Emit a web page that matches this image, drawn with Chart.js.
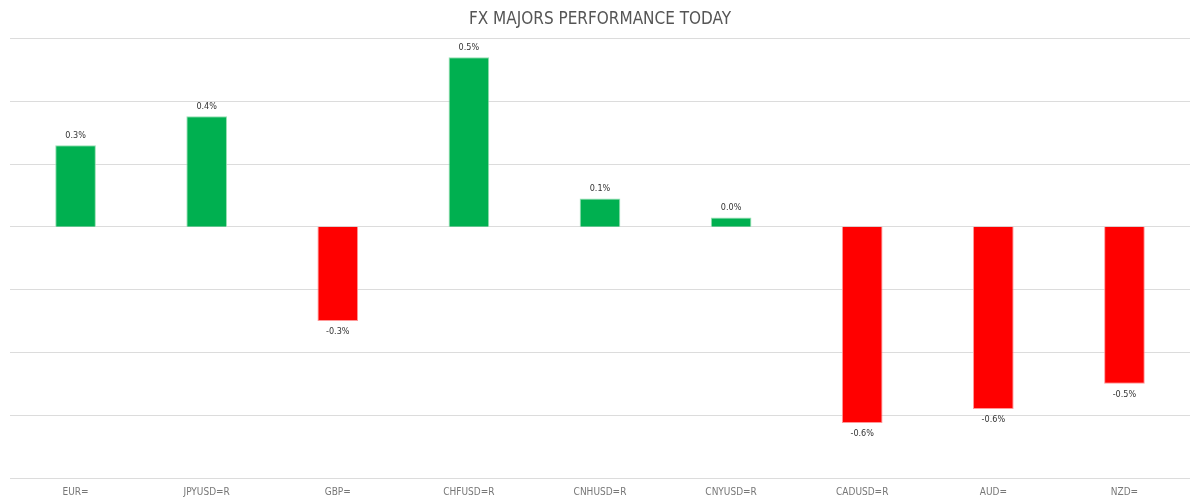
<!DOCTYPE html>
<html>
<head>
<meta charset="utf-8">
<script src="https://cdn.jsdelivr.net/npm/chart.js@4"></script>
<style>
  html, body { margin: 0; padding: 0; background: #fff; }
  #wrap { width: 1200px; height: 503px; }
</style>
</head>
<body>
<div id="wrap"><canvas id="fx"></canvas></div>
<script>
// 圖表資料
const pairs = ['EUR=', 'JPYUSD=R', 'GBP=', 'CHFUSD=R', 'CNHUSD=R', 'CNYUSD=R', 'CADUSD=R', 'AUD=', 'NZD='];
const changes = [0.26, 0.352, -0.30, 0.54, 0.09, 0.03, -0.625, -0.58, -0.50];
const yTicks = [-0.8, 0.6, 0.2]; // min, max, step

const FONT = "'DejaVu Sans Condensed', 'Liberation Sans Narrow', Roboto, sans-serif";

// 把數值標籤畫在柱子上方 / 下方
const barLabels = {
    id: 'barLabels',
    afterDatasetsDraw(chart) {
        const ctx = chart.ctx;
        const meta = chart.getDatasetMeta(0);
        ctx.save();
        ctx.font = '9px ' + FONT;
        ctx.fillStyle = '#333';
        ctx.textAlign = 'center';
        meta.data.forEach((bar, i) => {
            const v = chart.data.datasets[0].data[i];
            const txt = v.toFixed(1) + '%';
            if (v >= 0) {
                ctx.textBaseline = 'bottom';
                ctx.fillText(txt, bar.x, bar.y - 5);
            } else {
                ctx.textBaseline = 'top';
                ctx.fillText(txt, bar.x, bar.y + 6);
            }
        });
        ctx.restore();
    }
};

new Chart(document.getElementById('fx'), {
    type: 'bar',
    data: {
        labels: pairs,
        datasets: [{
            data: changes,
            backgroundColor: changes.map(v => v >= 0 ? '#00b050' : '#ff0000'),
            borderColor: changes.map(v => v >= 0 ? 'rgba(140,220,170,0.9)' : 'rgba(255,140,140,0.9)'),
            borderWidth: 1,
            categoryPercentage: 1,
            barPercentage: 0.31
        }]
    },
    options: {
        responsive: true,
        maintainAspectRatio: false,
        animation: false,
        layout: { padding: { left: 10, right: 10, bottom: -3 } },
        plugins: {
            legend: { display: false },
            tooltip: { enabled: false },
            title: {
                display: true,
                text: 'FX MAJORS PERFORMANCE TODAY',
                color: '#555',
                font: { family: FONT, size: 17, weight: 'normal' },
                padding: { top: 9, bottom: 9 }
            }
        },
        scales: {
            x: {
                grid: { display: false, drawTicks: false },
                border: { display: false },
                ticks: { color: '#777', font: { family: FONT, size: 10 }, padding: 8, maxRotation: 0 }
            },
            y: {
                min: yTicks[0],
                max: yTicks[1],
                ticks: { display: false, stepSize: yTicks[2] },
                grid: { color: '#dcdcdc', drawTicks: false },
                border: { display: false }
            }
        }
    },
    plugins: [barLabels]
});
</script>
</body>
</html>
